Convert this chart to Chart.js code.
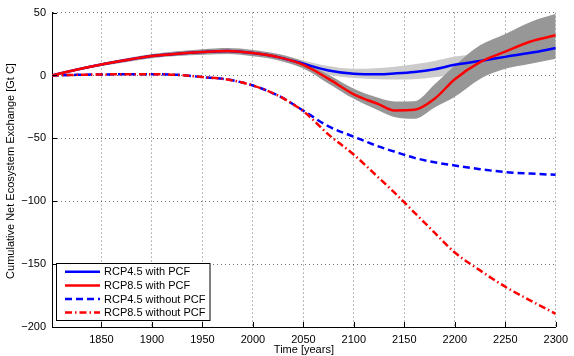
<!DOCTYPE html>
<html><head><meta charset="utf-8">
<script src="https://cdn.jsdelivr.net/npm/chart.js@4/dist/chart.umd.min.js"></script>
<style>html,body{margin:0;padding:0;background:#fff}#wrap{width:574px;height:356px}canvas{display:block}</style>
</head><body><div id="wrap"><canvas id="c" width="574" height="356"></canvas></div>
<script>
// ---- data ----
const years = [1801,1825,1850,1875,1900,1925,1950,1975,2000,2025,2050,2075,2100,2125,2140,2160,2180,2200,2225,2250,2275,2300];
const rcp45Pcf   = [0,4.6,8.8,12.3,15.4,17.3,18.6,19.4,17.8,14.6,9.3,4,1.4,1,1.6,2.8,5,8.5,11.5,14.8,18,21.8];
const rcp85Pcf   = [0,4.6,8.8,12.3,15.4,17.3,18.6,19.4,17.8,14.6,8.5,-2.7,-15,-23,-27.8,-27.3,-18.5,-3,10.6,19,27,32];
const rcp45Upper = [0,5.2,9.6,13.2,16.3,18.3,19.8,20.8,19.5,17,12,7.5,5.3,6,7,9,11.5,15,17.5,20,23,26];
const rcp45Lower = [0,4,8,11.4,14.5,16.3,17.4,18,16.1,12.2,6.5,0.5,-2.1,-3,-3.2,-3,-1.5,0.5,4,8,12,16];
const rcp85Upper = [0,5.4,10,13.8,17,19.2,20.8,21.8,20.3,17,11,0.5,-10.6,-18,-20.7,-20.5,-7,8,24,33,42.5,49];
const rcp85Lower = [0,3.8,7.6,10.8,13.8,15.4,16.4,17,15.3,12.2,5.5,-6.5,-18.6,-28,-33,-34.5,-25.5,-17,-2.7,5.3,9.3,13.3];
const rcp45NoPcf = [0,0.5,0.8,1,1,0.5,-1.3,-3.2,-8,-16,-28,-40.5,-48.7,-56.6,-60.5,-65.5,-69,-71.6,-74.5,-76.8,-78,-79];
const rcp85NoPcf = [0,0.5,0.8,1,1,0.5,-1.3,-3.2,-8,-16,-28.5,-47,-63,-81.6,-93,-109,-125,-140.8,-155,-168,-179,-189.5];
const xTicks = [1850,1900,1950,2000,2050,2100,2150,2200,2250,2300];
const yTicks = [-200,-150,-100,-50,0,50];
const legendLabels = ['RCP4.5 with PCF','RCP8.5 with PCF','RCP4.5 without PCF','RCP8.5 without PCF'];
const yTitle = 'Cumulative Net Ecosystem Exchange [Gt C]';
const xTitle = 'Time [years]';

const pts = arr => arr.map((v,i)=>({x:years[i], y:v}));
const FONT = "'Liberation Sans', Arial, Helvetica, sans-serif";
Chart.defaults.font.family = FONT;
Chart.defaults.font.size = 11;
Chart.defaults.color = '#000';

const styles = [
  {color:'#0000ff', dash:[]},
  {color:'#ff0000', dash:[]},
  {color:'#0000ff', dash:[7,4]},
  {color:'#ff0000', dash:[7,3,1.5,3]}
];
const lineSeries = [rcp45Pcf, rcp85Pcf, rcp45NoPcf, rcp85NoPcf];
const orders = [3,2,1,0];

const base = {pointRadius:0, cubicInterpolationMode:'monotone', borderCapStyle:'butt'};
const datasets = [
  Object.assign({}, base, {data:pts(rcp45Upper), borderWidth:0, borderColor:'rgba(0,0,0,0)', fill:false, order:5}),
  Object.assign({}, base, {data:pts(rcp45Lower), borderWidth:0, borderColor:'rgba(0,0,0,0)', fill:'-1', backgroundColor:'#cbcbcb', order:5}),
  Object.assign({}, base, {data:pts(rcp85Upper), borderWidth:0, borderColor:'rgba(0,0,0,0)', fill:false, order:4}),
  Object.assign({}, base, {data:pts(rcp85Lower), borderWidth:0, borderColor:'rgba(0,0,0,0)', fill:'-1', backgroundColor:'#979797', order:4}),
];
lineSeries.forEach((s,i)=>{
  datasets.push(Object.assign({}, base, {data:pts(s), borderColor:styles[i].color, borderWidth:2.5, borderDash:styles[i].dash, fill:false, order:orders[i]}));
});

const decor = {
  id:'decor',
  afterDraw(chart){
    const ctx = chart.ctx, a = chart.chartArea, xs = chart.scales.x, ys = chart.scales.y;
    ctx.save();
    ctx.strokeStyle = '#000'; ctx.lineWidth = 1;
    xTicks.forEach(v=>{ const px = Math.round(xs.getPixelForValue(v))+0.5; ctx.beginPath(); ctx.moveTo(px, a.bottom); ctx.lineTo(px, a.bottom-5); ctx.stroke(); });
    yTicks.forEach(v=>{ const py = Math.round(ys.getPixelForValue(v))+0.5; ctx.beginPath(); ctx.moveTo(a.left, py); ctx.lineTo(a.left+5, py); ctx.stroke(); });
    // y axis title
    ctx.save();
    ctx.translate(11, 171); ctx.rotate(-Math.PI/2);
    ctx.font = '11px ' + FONT; ctx.fillStyle = '#000'; ctx.textAlign = 'center'; ctx.textBaseline = 'middle';
    ctx.fillText(yTitle, 0, 0);
    ctx.restore();
    // legend
    const bx = 56.5, by = 263.5, bw = 153.5, bh = 57;
    ctx.fillStyle = '#fff'; ctx.fillRect(bx, by, bw, bh);
    ctx.strokeStyle = '#000'; ctx.lineWidth = 1; ctx.strokeRect(bx, by, bw, bh);
    ctx.font = '11px ' + FONT; ctx.textBaseline = 'middle'; ctx.textAlign = 'left';
    legendLabels.forEach((t,i)=>{
      const y = 271.8 + i*13.6;
      ctx.beginPath(); ctx.strokeStyle = styles[i].color; ctx.lineWidth = 2.5; ctx.setLineDash(styles[i].dash);
      ctx.moveTo(65, y); ctx.lineTo(100, y); ctx.stroke(); ctx.setLineDash([]);
      ctx.fillStyle = '#000'; ctx.fillText(t, 104, y+0.5);
    });
    ctx.restore();
  }
};

new Chart(document.getElementById('c'), {
  type:'line',
  data:{datasets},
  options:{
    responsive:false, devicePixelRatio:1, animation:false,
    layout:{padding:{top:11, right:15, left:0, bottom:0}},
    plugins:{legend:{display:false}, tooltip:{enabled:false}},
    scales:{
      x:{type:'linear', min:1801, max:2300,
        afterBuildTicks:s=>{ s.ticks = xTicks.map(v=>({value:v})); },
        afterFit:s=>{ s.height = 29; },
        ticks:{padding:6, maxRotation:0, autoSkip:false, color:'#000', font:{size:11}, callback:v=>String(v)},
        grid:{color:'rgba(0,0,0,0.55)', lineWidth:1, drawTicks:false},
        border:{display:true, color:'#000', width:1, dash:[1,3]},
        title:{display:true, text:xTitle, color:'#000', font:{size:11}, padding:{top:0,bottom:-1}}
      },
      y:{type:'linear', min:-200, max:50,
        afterBuildTicks:s=>{ s.ticks = yTicks.map(v=>({value:v})); },
        afterFit:s=>{ s.width = 52; },
        ticks:{padding:6, color:'#000', font:{size:11}, callback:v=> (v<0? '\u2212'+Math.abs(v) : String(v))},
        grid:{color:'rgba(0,0,0,0.55)', lineWidth:1, drawTicks:false},
        border:{display:true, color:'#000', width:1, dash:[1,3]},
        title:{display:false}
      }
    }
  },
  plugins:[decor]
});
</script>
</body></html>
